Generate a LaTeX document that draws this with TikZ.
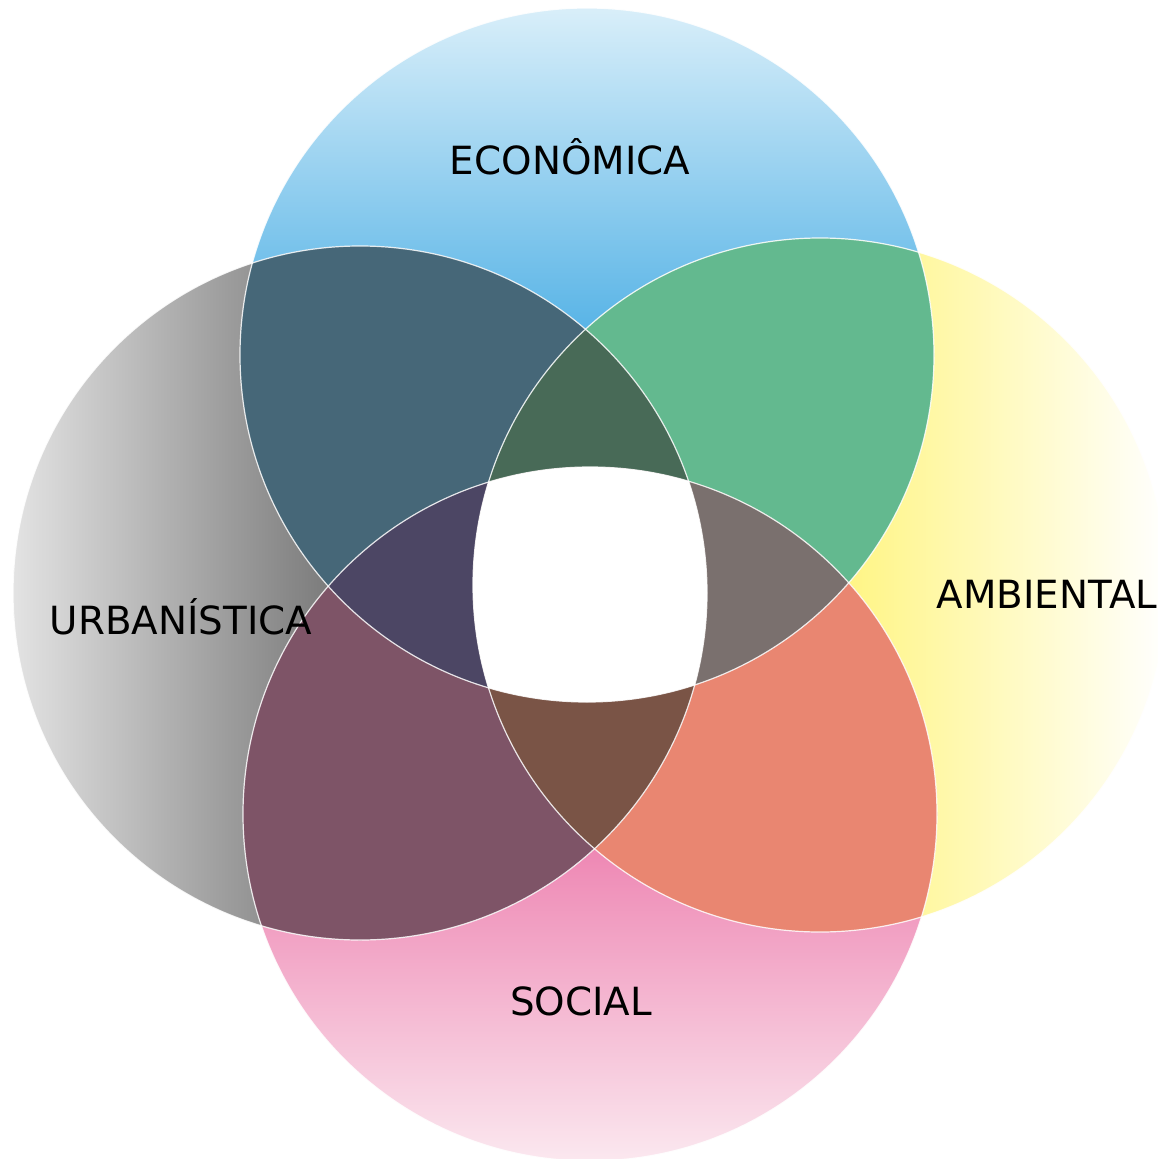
\documentclass[tikz,border=0pt]{standalone}
\usepackage{fontspec}
\setmainfont{DejaVu Sans}
\definecolor{cTL}{HTML}{466778}
\definecolor{cTR}{HTML}{63B98F}
\definecolor{cBR}{HTML}{E98671}
\definecolor{cBL}{HTML}{7E5467}
\definecolor{cTLR}{HTML}{486A57}
\definecolor{cTLB}{HTML}{4C4664}
\definecolor{cTRB}{HTML}{7A706E}
\definecolor{cLRB}{HTML}{7A5446}
\definecolor{blueA}{HTML}{DCF0FA}
\definecolor{blueB}{HTML}{56B3E6}
\definecolor{yelA}{HTML}{FFF584}
\definecolor{pinkA}{HTML}{EE88B4}
\definecolor{pinkB}{HTML}{FBE9F0}
\definecolor{grayA}{HTML}{E4E4E4}
\definecolor{grayB}{HTML}{7B7B7B}
\tikzset{
  lbl/.style={font=\fontsize{38.8}{46}\selectfont, text=black, inner sep=0pt, anchor=base},
  rim/.style={draw=white, line width=1.2pt, draw opacity=0.85}
}
\begin{document}
\begin{tikzpicture}[x=1pt,y=-1pt]
\useasboundingbox (0,0) rectangle (1157,1159);
\fill[white] (0,0) rectangle (1157,1159);
\def\rr{347}
\coordinate (T) at (587,355);
\coordinate (B) at (590,814);
\coordinate (L) at (360,593);
\coordinate (R) at (820,585);
% single circles with gradients
\begin{scope}
  \clip (T) circle[radius=\rr];
  \shade[top color=blueA, bottom color=blueB] (230,0) rectangle (945,336);
  \fill[blueB] (230,335) rectangle (945,710);
\end{scope}
\begin{scope}
  \clip (R) circle[radius=\rr];
  \shade[left color=yelA, right color=white] (845,230) rectangle (1168,940);
  \fill[yelA] (460,230) rectangle (846,940);
\end{scope}
\begin{scope}
  \clip (B) circle[radius=\rr];
  \shade[top color=pinkA, bottom color=pinkB] (235,850) rectangle (945,1165);
  \fill[pinkA] (235,455) rectangle (945,851);
\end{scope}
\begin{scope}
  \clip (L) circle[radius=\rr];
  \shade[left color=grayA, right color=grayB] (10,240) rectangle (330,945);
  \fill[grayB] (329,240) rectangle (710,945);
\end{scope}
% pairs
\begin{scope}\clip (T) circle[radius=\rr]; \fill[cTL] (L) circle[radius=\rr];\end{scope}
\begin{scope}\clip (T) circle[radius=\rr]; \fill[cTR] (R) circle[radius=\rr];\end{scope}
\begin{scope}\clip (B) circle[radius=\rr]; \fill[cBR] (R) circle[radius=\rr];\end{scope}
\begin{scope}\clip (B) circle[radius=\rr]; \fill[cBL] (L) circle[radius=\rr];\end{scope}
% triples
\begin{scope}\clip (T) circle[radius=\rr]; \clip (L) circle[radius=\rr]; \fill[cTLR] (R) circle[radius=\rr];\end{scope}
\begin{scope}\clip (T) circle[radius=\rr]; \clip (L) circle[radius=\rr]; \fill[cTLB] (B) circle[radius=\rr];\end{scope}
\begin{scope}\clip (T) circle[radius=\rr]; \clip (R) circle[radius=\rr]; \fill[cTRB] (B) circle[radius=\rr];\end{scope}
\begin{scope}\clip (L) circle[radius=\rr]; \clip (R) circle[radius=\rr]; \fill[cLRB] (B) circle[radius=\rr];\end{scope}
% all four
\begin{scope}\clip (T) circle[radius=\rr]; \clip (L) circle[radius=\rr]; \clip (R) circle[radius=\rr]; \fill[white] (B) circle[radius=\rr];\end{scope}
% rims
\draw[rim] (T) circle[radius=\rr];
\draw[rim] (R) circle[radius=\rr];
\draw[rim] (B) circle[radius=\rr];
\draw[rim] (L) circle[radius=\rr];
% labels
\node[lbl] (eco) at (570,174) {ECONÔMICA};
\node[lbl] (urb) at (181,634) {URBANÍSTICA};
\node[lbl] (amb) at (1047,608) {AMBIENTAL};
\node[lbl] (soc) at (581,1015) {SOCIAL};
\end{tikzpicture}
\end{document}
